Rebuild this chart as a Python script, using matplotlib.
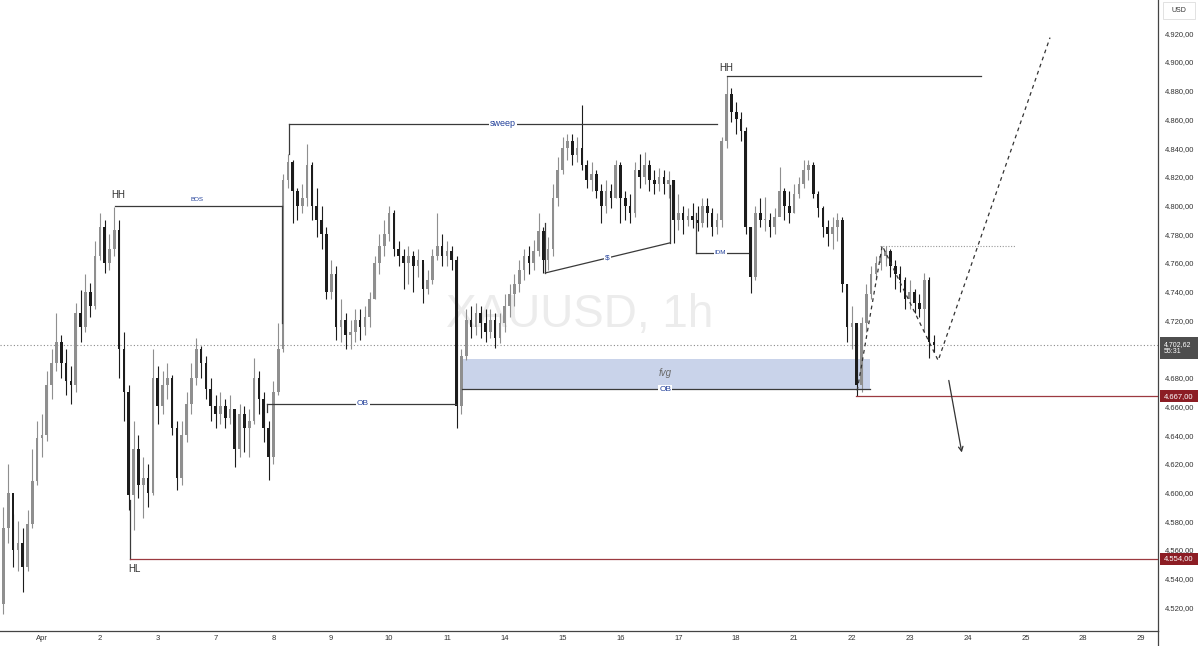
import matplotlib
matplotlib.use("Agg")
import matplotlib.pyplot as plt
from matplotlib.patches import Rectangle
from matplotlib import transforms
import numpy as np

plt.rcParams['font.family'] = ['Liberation Sans', 'DejaVu Sans']

# ---------------- data (2-hour candles, XAUUSD) ----------------
first_open = 4522
close = [4575, 4600, 4560, 4565, 4548, 4578, 4608, 4638, 4640, 4675,
         4690, 4705, 4690, 4678, 4675, 4725, 4715, 4740, 4730, 4765,
         4785, 4760, 4770, 4783, 4700, 4670, 4598, 4630, 4605, 4610,
         4600, 4680, 4660, 4675, 4680, 4645, 4610, 4640, 4662, 4680,
         4700, 4690, 4672, 4660, 4655, 4660, 4652, 4658, 4630, 4655,
         4645, 4650, 4680, 4665, 4645, 4625, 4670, 4700, 4818, 4830,
         4810, 4800, 4805, 4828, 4800, 4790, 4780, 4740, 4752, 4715,
         4720, 4710, 4712, 4720, 4715, 4722, 4735, 4760, 4772, 4780,
         4795, 4770, 4765, 4760, 4765, 4758, 4762, 4742, 4748, 4765,
         4772, 4765, 4768, 4762, 4660, 4695, 4720, 4715, 4725, 4718,
         4712, 4720, 4708, 4718, 4730, 4738, 4745, 4755, 4765, 4760,
         4768, 4782, 4762, 4770, 4805, 4825, 4840, 4845, 4835, 4840,
         4828, 4818, 4822, 4810, 4800, 4810, 4805, 4828, 4805, 4800,
         4795, 4825, 4820, 4828, 4818, 4815, 4820, 4815, 4818, 4790,
         4795, 4790, 4793, 4790, 4788, 4800, 4795, 4785, 4790, 4845,
         4878, 4865, 4860, 4852, 4785, 4750, 4795, 4790, 4790, 4785,
         4792, 4810, 4800, 4795, 4808, 4815, 4825, 4828, 4808, 4798,
         4785, 4780, 4785, 4790, 4745, 4715, 4718, 4675, 4718, 4738,
         4752, 4760, 4765, 4768, 4758, 4752, 4748, 4735, 4740, 4732,
         4728, 4748, 4705, 4702.62]
high = [4590, 4620, 4585, 4580, 4575, 4588, 4630, 4650, 4655, 4685,
        4700, 4725, 4710, 4700, 4688, 4732, 4741, 4752, 4746, 4775,
        4795, 4790, 4780, 4799, 4790, 4712, 4675, 4650, 4640, 4625,
        4620, 4700, 4688, 4685, 4690, 4682, 4650, 4650, 4670, 4690,
        4708, 4702, 4695, 4680, 4668, 4670, 4665, 4668, 4655, 4662,
        4660, 4658, 4694, 4685, 4670, 4650, 4678, 4718, 4822, 4836,
        4832, 4812, 4815, 4843, 4830, 4812, 4800, 4785, 4762, 4758,
        4735, 4725, 4720, 4728, 4728, 4730, 4740, 4765, 4780, 4790,
        4800, 4797, 4775, 4770, 4772, 4768, 4770, 4760, 4755, 4770,
        4795, 4780, 4775, 4772, 4765, 4700, 4728, 4730, 4732, 4730,
        4728, 4728, 4725, 4725, 4738, 4745, 4752, 4762, 4770, 4772,
        4776, 4795, 4785, 4778, 4815, 4834, 4848, 4850, 4850, 4848,
        4870, 4832, 4830, 4825, 4815, 4818, 4815, 4832, 4830, 4810,
        4808, 4830, 4836, 4837, 4832, 4825, 4826, 4825, 4824, 4818,
        4808, 4800, 4798, 4802, 4800, 4805, 4805, 4798, 4795, 4848,
        4890, 4882, 4872, 4865, 4855, 4785, 4800, 4805, 4806, 4795,
        4798, 4827, 4812, 4810, 4815, 4820, 4832, 4832, 4830, 4810,
        4800, 4790, 4792, 4795, 4792, 4745, 4730, 4715, 4722, 4745,
        4758, 4765, 4772, 4772, 4770, 4762, 4758, 4750, 4748, 4742,
        4738, 4753, 4750, 4710]
low = [4515, 4565, 4548, 4545, 4531, 4545, 4575, 4605, 4625, 4636,
       4665, 4685, 4680, 4668, 4662, 4670, 4705, 4712, 4722, 4728,
       4762, 4753, 4755, 4765, 4680, 4650, 4588, 4574, 4596, 4582,
       4590, 4598, 4648, 4655, 4665, 4640, 4602, 4605, 4635, 4655,
       4675, 4680, 4665, 4650, 4645, 4648, 4645, 4648, 4618, 4625,
       4628, 4625, 4648, 4655, 4635, 4609, 4620, 4668, 4698, 4812,
       4788, 4790, 4795, 4800, 4790, 4778, 4770, 4735, 4735, 4706,
       4705, 4700, 4700, 4705, 4706, 4710, 4715, 4735, 4752, 4765,
       4775, 4765, 4758, 4742, 4745, 4740, 4750, 4732, 4738, 4745,
       4762, 4758, 4758, 4755, 4645, 4655, 4692, 4708, 4710, 4708,
       4705, 4708, 4701, 4704, 4712, 4722, 4730, 4740, 4748, 4752,
       4755, 4765, 4753, 4755, 4765, 4800, 4822, 4832, 4828, 4830,
       4825, 4812, 4810, 4805, 4788, 4795, 4798, 4805, 4788, 4790,
       4788, 4792, 4812, 4815, 4810, 4808, 4810, 4808, 4805, 4774,
       4783, 4780, 4786, 4784, 4782, 4785, 4785, 4779, 4780, 4785,
       4840, 4858, 4850, 4845, 4780, 4739, 4748, 4785, 4782, 4778,
       4780, 4795, 4790, 4788, 4795, 4805, 4812, 4818, 4805, 4792,
       4778, 4772, 4770, 4775, 4740, 4705, 4700, 4667, 4670, 4712,
       4735, 4748, 4755, 4758, 4750, 4742, 4740, 4728, 4728, 4725,
       4722, 4712, 4694, 4698]

day_labels = ['Apr', '2', '3', '7', '8', '9', '10', '11', '14', '15',
              '16', '17', '18', '21', '22', '23', '24', '25', '28', '29']
price_ticks = list(range(4520, 4921, 20))
last_price = 4702.62
countdown = '55:31'
level_hl = 4554.0
level_low = 4667.0

# ---------------- figure ----------------
W, H = 1200, 646
fig = plt.figure(figsize=(W / 100, H / 100), dpi=100)
fig.patch.set_facecolor('white')
ax = fig.add_axes([0, 15 / H, 1158 / W, 631 / H])
ax.set_xlim(-0.71, 239.5)
ax.set_ylim(4503.5, 4943.2)

opens = [first_open] + close[:-1]
x = np.arange(len(close))
bull_c, bear_c = '#8f8f8f', '#1c1c1c'
for i in range(len(close)):
    o, c, h, l = opens[i], close[i], high[i], low[i]
    col = bull_c if c >= o else bear_c
    ax.vlines(x[i], l, h, colors=col, lw=0.8, zorder=3)
    ax.bar(x[i], max(abs(c - o), 0.9), bottom=min(o, c), width=0.55,
           color=col, lw=0, zorder=3)

# watermark
ax.text(119.6, 4723.5, 'XAUUSD, 1h', fontsize=33, color='#ececec',
        ha='center', va='center', zorder=0)

line_c = '#3a3a3a'
blue = '#22409a'
lw = 0.9
wbox = dict(fc='white', ec='none', pad=0.6)

# HH / BOS
ax.text(23.8, 4807, 'HH', fontsize=7, color='#333333', ha='center', va='center', zorder=5)
ax.plot([23.2, 57.8], [4800, 4800], color=line_c, lw=lw, zorder=4)
ax.plot([57.8, 57.8], [4800, 4718], color=line_c, lw=lw, zorder=4)
ax.text(40.2, 4804, 'BOS', fontsize=4.5, color=blue, ha='center', va='center', zorder=5)

# HL
ax.plot([26.3, 26.3], [4595, level_hl], color=line_c, lw=lw, zorder=4)
ax.plot([26.3, 239.5], [level_hl, level_hl], color='#9c3a40', lw=0.9, zorder=4)
ax.text(27.1, 4546.6, 'HL', fontsize=7, color='#333333', ha='center', va='center', zorder=5)

# sweep
ax.plot([59.3, 148.0], [4857, 4857], color=line_c, lw=lw, zorder=4)
ax.plot([59.3, 59.3], [4857, 4836], color=line_c, lw=lw, zorder=4)
ax.text(103.6, 4857, 'sweep', fontsize=6.5, color=blue, ha='center', va='center',
        bbox=wbox, zorder=5)

# $ line
ax.plot([112.4, 138.3], [4753, 4774], color=line_c, lw=lw, zorder=4)
ax.plot([112.4, 112.4], [4753, 4788], color=line_c, lw=lw, zorder=4)
ax.plot([138.3, 138.3], [4774, 4814], color=line_c, lw=lw, zorder=4)
ax.text(125.3, 4763.5, '$', fontsize=6, color=blue, ha='center', va='center',
        bbox=wbox, zorder=5)

# IDM
ax.plot([143.7, 143.7], [4795, 4767], color=line_c, lw=lw, zorder=4)
ax.plot([143.7, 154.5], [4767, 4767], color=line_c, lw=lw, zorder=4)
ax.text(148.7, 4767, 'IDM', fontsize=4.5, color=blue, ha='center', va='center',
        bbox=wbox, zorder=5)

# HH 2
ax.text(149.9, 4895.5, 'HH', fontsize=7, color='#333333', ha='center', va='center', zorder=5)
ax.plot([150.0, 202.8], [4890, 4890], color=line_c, lw=lw, zorder=4)

# OB 1
ax.plot([54.7, 93.9], [4662, 4662], color=line_c, lw=lw, zorder=4)
ax.plot([54.7, 54.7], [4662, 4656], color=line_c, lw=lw, zorder=4)
ax.text(74.6, 4662, 'OB', fontsize=6, color=blue, ha='center', va='center',
        bbox=wbox, zorder=5)

# FVG + OB 2
ax.add_patch(Rectangle((95.1, 4672), 179.8 - 95.1, 4693 - 4672,
                       fc='#c9d3ea', ec='none', zorder=1))
ax.plot([95.1, 179.8], [4672, 4672], color=line_c, lw=lw, zorder=4)
ax.text(137.3, 4683, 'fvg', fontsize=7, color='#6a6a6a', style='italic',
        ha='center', va='center', zorder=5)
ax.text(137.3, 4672, 'OB', fontsize=6, color=blue, ha='center', va='center',
        bbox=wbox, zorder=5)

# levels
ax.plot([176.9, 239.5], [level_low, level_low], color='#9c3a40', lw=0.9, zorder=4)
ax.axhline(last_price, color='#8a8a8a', lw=0.8, ls=(0, (1, 2)), zorder=2)
ax.plot([181.9, 209.9], [4772, 4772], color='#999999', lw=0.8, ls=(0, (1, 1.5)), zorder=2)

# projection
ax.plot([177.1, 182.3, 193.9, 217.1], [4671, 4772, 4692, 4917],
        color='#333333', lw=0.9, ls=(0, (3, 3)), zorder=4)
ax.annotate('', xy=(198.9, 4626), xytext=(196.0, 4680),
            arrowprops=dict(arrowstyle='->', color='#333333', lw=0.9,
                            mutation_scale=8), zorder=4)

# axes styling
for s in ['top', 'left']:
    ax.spines[s].set_visible(False)
for s in ['right', 'bottom']:
    ax.spines[s].set_color('#444444')
    ax.spines[s].set_linewidth(0.9)
ax.yaxis.tick_right()
ax.set_yticks(price_ticks)
# the 4.700 label sits under the last-price tag, as in the reference
ax.set_yticklabels(['' if abs(p - last_price) < 8 else f"{p // 1000}.{p % 1000:03d},00"
                    for p in price_ticks])
ax.tick_params(axis='y', length=0, pad=5, labelsize=5.5, labelcolor='#333333')
ax.set_xticks([8 + 12 * i for i in range(len(day_labels))])
ax.set_xticklabels(day_labels)
ax.tick_params(axis='x', length=0, pad=3, labelsize=5.5, labelcolor='#333333')

# right axis separator extension
fig.add_artist(plt.Line2D([1158 / W, 1158 / W], [0, 15 / H], color='#444444',
                          lw=0.9, transform=fig.transFigure))

# price labels on the axis
bt = transforms.blended_transform_factory(fig.transFigure, ax.transData)


def price_box(y_top, y_bot, color):
    fig.add_artist(Rectangle((1160 / W, y_bot), 38 / W, y_top - y_bot,
                             transform=bt, fc=color, ec='none', zorder=5))


def fmt(p):
    ip = int(p)
    dec = int(round((p - ip) * 100))
    return f"{ip // 1000}.{ip % 1000:03d},{dec:02d}"


price_box(last_price + 5.5, last_price - 9.5, '#4e4e4e')
fig.text(1164 / W, last_price - 2.0, fmt(last_price) + '\n' + countdown,
         transform=bt, fontsize=5, color='white', ha='left', va='center',
         linespacing=1.15, zorder=6)
for lvl in (level_low, level_hl):
    price_box(lvl + 4.2, lvl - 4.2, '#8c1d24')
    fig.text(1164 / W, lvl, fmt(lvl), transform=bt, fontsize=5.5,
             color='white', ha='left', va='center', zorder=6)

# USD box
fig.add_artist(Rectangle((1163 / W, 1 - 19 / H), 32 / W, 17 / H,
                         transform=fig.transFigure, fc='white', ec='#dddddd',
                         lw=0.6, zorder=5))
fig.text(1179 / W, 1 - 10 / H, 'USD', fontsize=5, color='#333333',
         ha='center', va='center', zorder=6)

fig.savefig('out.png', dpi=100, facecolor='white')
